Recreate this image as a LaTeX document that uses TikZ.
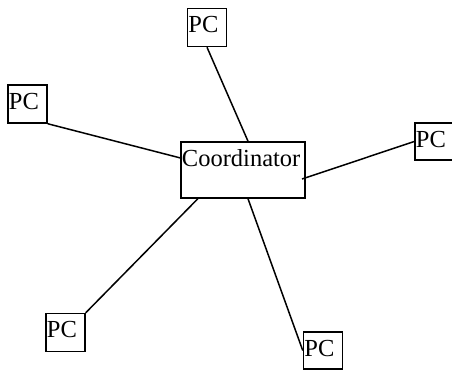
\documentclass[tikz,border=0pt]{standalone}
\usepackage{fontspec}
\setmainfont{Liberation Serif}
\usetikzlibrary{calc}
\tikzset{
  box/.style={draw, line width=1.5pt, inner sep=0pt, rectangle},
  tag/.style={anchor=base west, inner sep=0pt, xshift=1.5pt, font=\fontsize{24.5}{28}\selectfont},
  pcbox/.style={box, minimum width=39pt, minimum height=38pt,
    label={[tag, yshift=-25pt]north west:PC}},
  link/.style={line width=1.5pt}
}
\begin{document}
\begin{tikzpicture}[x=1pt, y=-1pt]
  \useasboundingbox (0,0) rectangle (452,370);
  % central coordinator
  \node[box, minimum width=124pt, minimum height=56pt,
    label={[tag, yshift=-25pt]north west:Coordinator}] (co) at (243,170) {};
  % workstations
  \node[pcbox] (pcT)  at (207,27.5) {};
  \node[pcbox] (pcL)  at (27.5,104) {};
  \node[pcbox, minimum height=37pt] (pcR)  at (434.5,141.5) {};
  \node[pcbox] (pcBL) at (65.5,332.5) {};
  \node[pcbox, minimum height=37pt] (pcBR) at (323,350.5) {};
  % attachment points on the coordinator
  \coordinate (coT)  at ($(co.north west)!0.54!(co.north east)$);
  \coordinate (coL)  at ($(co.north west)!0.29!(co.south west)$);
  \coordinate (coR)  at (302,179);
  \coordinate (coBL) at ($(co.south west)!0.14!(co.south east)$);
  \coordinate (coBR) at ($(co.south west)!0.54!(co.south east)$);
  % links
  \draw[link] (pcT.south) -- (coT);
  \draw[link] (pcL.south east) -- (coL);
  \draw[link] (pcR.west) -- (coR);
  \draw[link] (pcBL.north east) -- (coBL);
  \draw[link] (pcBR.west) -- (coBR);
\end{tikzpicture}
\end{document}
